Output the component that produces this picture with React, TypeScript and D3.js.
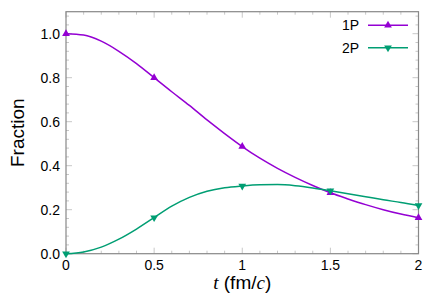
import { line, curveMonotoneX, scaleLinear, range, symbol, symbolTriangle } from "d3";

const width = 436;
const height = 299;
const margin = { top: 11.7, right: 17.5, bottom: 45.3, left: 66 };

// t in fm/c
const tDense = [0, 0.1, 0.2, 0.3, 0.4, 0.5, 0.6, 0.7, 0.8, 0.9, 1.0, 1.1, 1.2, 1.3, 1.4, 1.5, 1.6, 1.7, 1.8, 1.9, 2.0];
const p1Dense = [1.0, 0.994, 0.966, 0.92, 0.864, 0.8, 0.736, 0.674, 0.608, 0.546, 0.487, 0.434, 0.388, 0.347, 0.31, 0.277, 0.249, 0.223, 0.2, 0.18, 0.163];
const p2Dense = [0, 0.008, 0.03, 0.066, 0.112, 0.164, 0.216, 0.256, 0.284, 0.3, 0.308, 0.313, 0.314, 0.309, 0.299, 0.286, 0.272, 0.259, 0.245, 0.233, 0.219];

const tMarks = [0, 0.5, 1.0, 1.5, 2.0];
const p1Marks = [1.0, 0.8, 0.487, 0.277, 0.163];
const p2Marks = [0, 0.164, 0.308, 0.286, 0.219];

const xTicks = [0, 0.5, 1, 1.5, 2];
const xTickLabels = ["0", "0.5", "1", "1.5", "2"];
const yTicks = [0, 0.2, 0.4, 0.6, 0.8, 1.0];
const yTickLabels = ["0.0", "0.2", "0.4", "0.6", "0.8", "1.0"];

const c1 = "#9400d3";
const c2 = "#009e73";
const sans = "'Liberation Sans', Arial, Helvetica, sans-serif";
const serif = "'Liberation Serif', 'Times New Roman', serif";

function App() {
  const x = scaleLinear().domain([0, 2]).range([margin.left, width - margin.right]);
  const y = scaleLinear().domain([0, 1.1]).range([height - margin.bottom, margin.top]);
  const x0 = x.range()[0], x1 = x.range()[1];
  const y0 = y.range()[0], y1 = y.range()[1];

  const mk = (vals: number[]) =>
    line<number>()
      .x((_, i) => x(tDense[i]))
      .y((d) => y(d))
      .curve(curveMonotoneX)(vals) as string;

  const tri = symbol().type(symbolTriangle).size(26)() as string;

  const xMinor = range(0, 2.0001, 0.1);
  const yMinor = range(0, 1.1001, 0.04);

  const tickColor = "#c8c8c8";

  return (
    <svg width={width} height={height} style={{ position: "absolute", left: 0, top: 0, background: "#fff" }}>
      {/* minor ticks */}
      {xMinor.map((t, i) => (
        <g key={"xm" + i} stroke={tickColor} strokeWidth={1}>
          <line x1={x(t)} x2={x(t)} y1={y0} y2={y0 - (i % 5 === 0 ? 6 : 3)} />
          <line x1={x(t)} x2={x(t)} y1={y1} y2={y1 + (i % 5 === 0 ? 6 : 3)} />
        </g>
      ))}
      {yMinor.map((v, i) => (
        <g key={"ym" + i} stroke={tickColor} strokeWidth={1}>
          <line x1={x0} x2={x0 + (i % 5 === 0 ? 6 : 3)} y1={y(v)} y2={y(v)} />
          <line x1={x1} x2={x1 - (i % 5 === 0 ? 6 : 3)} y1={y(v)} y2={y(v)} />
        </g>
      ))}
      <rect x={x0} y={y1} width={x1 - x0} height={y0 - y1} fill="none" stroke="#888" strokeWidth={1.2} />

      {/* tick labels */}
      {xTicks.map((t, i) => (
        <text key={"xl" + i} x={x(t)} y={y0 + 16} textAnchor="middle" fontFamily={sans} fontSize={14} fill="#000">
          {xTickLabels[i]}
        </text>
      ))}
      {yTicks.map((v, i) => (
        <text key={"yl" + i} x={x0 - 6} y={y(v)} dy="0.35em" textAnchor="end" fontFamily={sans} fontSize={14} fill="#000">
          {yTickLabels[i]}
        </text>
      ))}

      {/* axis labels */}
      <text x={(x0 + x1) / 2} y={289} textAnchor="middle" fontFamily={sans} fontSize={19} fill="#000">
        <tspan fontFamily={serif} fontStyle="italic">t</tspan> (fm/<tspan fontFamily={serif} fontStyle="italic">c</tspan>)
      </text>
      <text
        transform={`translate(24, ${(y0 + y1) / 2}) rotate(-90)`}
        textAnchor="middle"
        fontFamily={sans}
        fontSize={19}
        fill="#000"
      >
        Fraction
      </text>

      {/* curves */}
      <path d={mk(p1Dense)} fill="none" stroke={c1} strokeWidth={1.5} />
      <path d={mk(p2Dense)} fill="none" stroke={c2} strokeWidth={1.5} />
      {tMarks.map((t, i) => (
        <path key={"m1" + i} d={tri} transform={`translate(${x(t)},${y(p1Marks[i])})`} fill={c1} />
      ))}
      {tMarks.map((t, i) => (
        <path key={"m2" + i} d={tri} transform={`translate(${x(t)},${y(p2Marks[i])}) rotate(180)`} fill={c2} />
      ))}

      {/* legend */}
      <text x={359} y={25.3} dy="0.35em" textAnchor="end" fontFamily={sans} fontSize={14} fill="#000">1P</text>
      <line x1={368} x2={408} y1={25.3} y2={25.3} stroke={c1} strokeWidth={1.5} />
      <path d={tri} transform="translate(388,25.3)" fill={c1} />
      <text x={359} y={47.7} dy="0.35em" textAnchor="end" fontFamily={sans} fontSize={14} fill="#000">2P</text>
      <line x1={368} x2={408} y1={47.7} y2={47.7} stroke={c2} strokeWidth={1.5} />
      <path d={tri} transform="translate(388,47.7) rotate(180)" fill={c2} />
    </svg>
  );
}

export default App;
